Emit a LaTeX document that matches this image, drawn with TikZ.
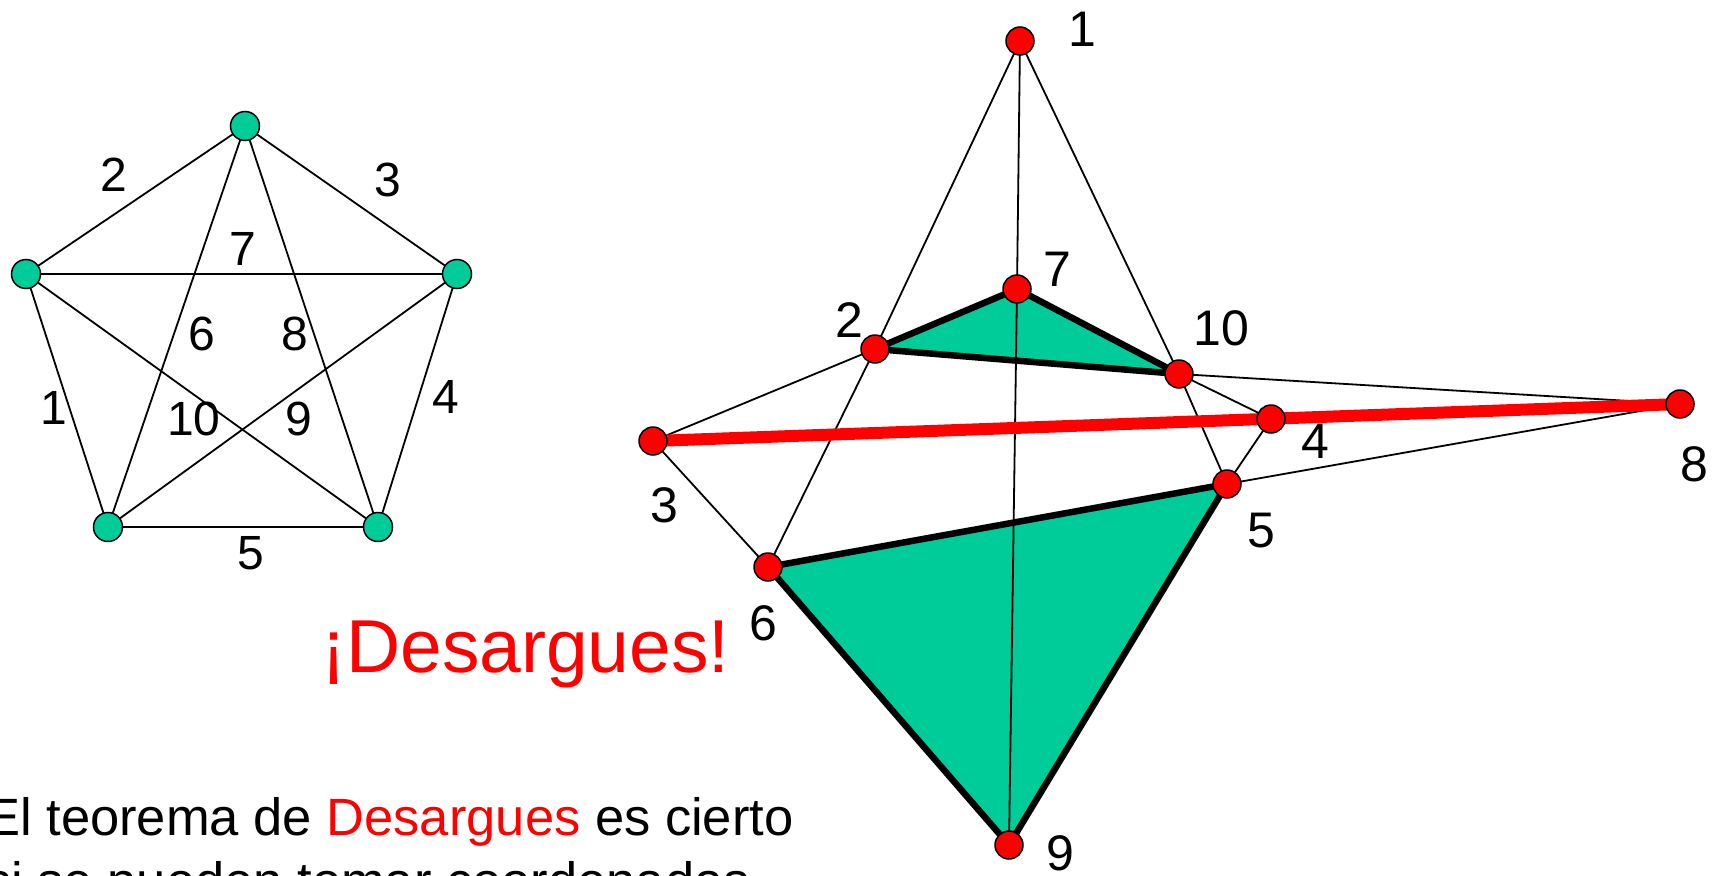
\documentclass[tikz,border=0pt]{standalone}
\usepackage{fontspec}
\setmainfont{Liberation Sans}
\definecolor{tgreen}{RGB}{0,204,153}
\begin{document}
\begin{tikzpicture}[x=1pt,y=-1pt,
  gdot/.style={circle,draw=black,line width=1.5pt,fill=tgreen,minimum size=29pt,inner sep=0pt},
  rdot/.style={circle,draw=black,line width=1.5pt,fill=red,minimum size=28pt,inner sep=0pt},
  thinedge/.style={line width=1.8pt},
  thickedge/.style={line width=6.5pt,line join=round},
  redline/.style={red,line width=12pt},
  lab/.style={font=\fontsize{48}{48}\selectfont,inner sep=0pt},
  rlab/.style={font=\fontsize{50}{50}\selectfont,inner sep=0pt},
  bodytext/.style={font=\fontsize{52.5}{52.5}\selectfont,inner sep=0pt,anchor=base west}]
\useasboundingbox (0,0) rectangle (1715,875);
\clip (0,0) rectangle (1715,875);

% ---- left: complete graph on five vertices ----
\coordinate (A) at (245,126);
\coordinate (B) at (26,274);
\coordinate (C) at (457,274);
\coordinate (D) at (108,527);
\coordinate (E) at (378,527);
\draw[thinedge] (A) -- (B) (A) -- (C) (A) -- (D) (A) -- (E)
  (B) -- (C) (B) -- (D) (B) -- (E) (C) -- (D) (C) -- (E) (D) -- (E);
\foreach \p in {A,B,C,D,E} \node[gdot] (g\p) at (\p) {};
\node[lab] (l2) at (114,175) {2};
\node[lab] (l3) at (388,180) {3};
\node[lab] (l7) at (243,249) {7};
\node[lab] (l6) at (202,334) {6};
\node[lab] (l8) at (295,334) {8};
\node[lab] (l1) at (54,408) {1};
\node[lab] (l10) at (194,419) {10};
\node[lab] (l9) at (299,419) {9};
\node[lab] (l4) at (446,397) {4};
\node[lab] (l5) at (251,553) {5};

% ---- right: Desargues configuration ----
\coordinate (p1) at (1020,41);
\coordinate (p2) at (875,349);
\coordinate (p3) at (653,441);
\coordinate (p4) at (1271,419);
\coordinate (p5) at (1227,484);
\coordinate (p6) at (768,567);
\coordinate (p7) at (1017,289);
\coordinate (p8) at (1680,404);
\coordinate (p9) at (1009,845);
\coordinate (p10) at (1179,374);

\filldraw[fill=tgreen,thickedge] (p2) -- (p7) -- (p10) -- cycle;
\filldraw[fill=tgreen,thickedge] (p6) -- (p5) -- (p9) -- cycle;

\draw[thinedge] (p1) -- (p2) (p2) -- (p6)
  (p1) -- (p7) (p7) -- (p9)
  (p1) -- (p10) (p10) -- (p5)
  (p3) -- (p2) (p3) -- (p6)
  (p10) -- (p8) (p5) -- (p8)
  (p10) -- (p4) (p4) -- (p5);

\draw[redline] (p3) -- (p8);

\foreach \i in {1,...,10} \node[rdot] (n\i) at (p\i) {};

\node[rlab] (r1) at (1082,29) {1};
\node[rlab] (r7) at (1057,269) {7};
\node[rlab] (r2) at (849,320) {2};
\node[rlab] (r10) at (1221,328) {10};
\node[rlab] (r4) at (1315,441) {4};
\node[rlab] (r5) at (1261,531) {5};
\node[rlab] (r8) at (1694,464) {8};
\node[rlab] (r3) at (664,505) {3};
\node[rlab] (r6) at (763,623) {6};
\node[rlab] (r9) at (1060,853) {9};

% ---- texts ----
\node[anchor=base west,inner sep=0pt,text=red,font=\fontsize{75}{75}\selectfont] (title) at (321,672) {¡Desargues!};
\node[bodytext] (line1) at (-15,835) {El teorema de \textcolor{red}{Desargues} es cierto};
\node[bodytext] (line2) at (-15,899) {si se pueden tomar coordenadas};
\end{tikzpicture}
\end{document}
